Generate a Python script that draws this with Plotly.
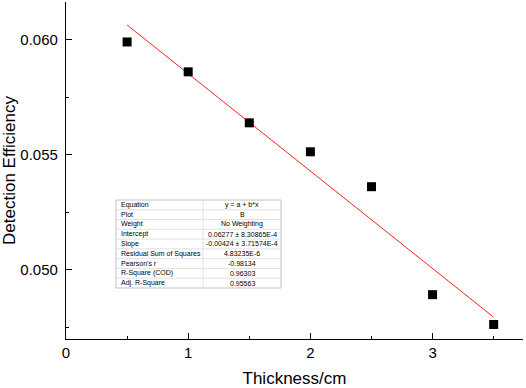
import plotly.graph_objects as go

thickness = [0.5, 1.0, 1.5, 2.0, 2.5, 3.0, 3.5]
efficiency = [0.05991, 0.05861, 0.05639, 0.05513, 0.05361, 0.04891, 0.04761]

intercept = 0.06277
slope = -0.00424
fit_x = [min(thickness), max(thickness)]
fit_y = [intercept + slope * x for x in fit_x]

table_labels = ["Equation", "Plot", "Weight", "Intercept", "Slope", "Residual Sum of Squares",
                "Pearson's r", "R-Square (COD)", "Adj. R-Square"]
table_values = ["y = a + b*x", "B", "No Weighting", "0.06277 \u00b1 8.30865E-4",
                "-0.00424 \u00b1 3.71574E-4", "4.83235E-6", "-0.98134", "0.96303", "0.95563"]

FONT = "Liberation Sans, Arial, sans-serif"
W, H = 526, 388
ML, MR, MT, MB = 66, 3, 2, 49

fig = go.Figure()
fig.add_trace(go.Scatter(x=fit_x, y=fit_y, mode="lines",
                         line=dict(color="#ff2020", width=1), showlegend=False))
fig.add_trace(go.Scatter(x=thickness, y=efficiency, mode="markers",
                         marker=dict(symbol="square", size=9, color="black"),
                         showlegend=False))

# statistics table (layout box in pixel terms -> paper)
pw, ph = W - ML - MR, H - MT - MB
def px(x):
    return (x - ML) / pw
def py(y):
    return (H - MB - y) / ph

t_left, t_right, t_top, t_bot, t_mid = 116, 281, 200, 288, 203
n = len(table_labels)
rh = (t_bot - t_top) / n
shapes = [dict(type="rect", xref="paper", yref="paper", x0=px(t_left), x1=px(t_right),
               y0=py(t_bot), y1=py(t_top), line=dict(color="#c0c0c0", width=1),
               fillcolor="white", layer="above")]
for i in range(1, n):
    yy = t_top + i * rh
    shapes.append(dict(type="line", xref="paper", yref="paper", x0=px(t_left), x1=px(t_right),
                       y0=py(yy), y1=py(yy), line=dict(color="#e2e2e2", width=1), layer="above"))
shapes.append(dict(type="line", xref="paper", yref="paper", x0=px(t_mid), x1=px(t_mid),
                   y0=py(t_bot), y1=py(t_top), line=dict(color="#e2e2e2", width=1), layer="above"))
annotations = []
for i, (lab, val) in enumerate(zip(table_labels, table_values)):
    yc = t_top + (i + 0.5) * rh
    annotations.append(dict(xref="paper", yref="paper", x=px(t_left + 3), y=py(yc),
                            xanchor="left", yanchor="middle", text=lab, showarrow=False,
                            font=dict(size=7, family=FONT, color="black")))
    annotations.append(dict(xref="paper", yref="paper", x=px((t_mid + t_right) / 2), y=py(yc),
                            xanchor="center", yanchor="middle", text=val, showarrow=False,
                            font=dict(size=7, family=FONT, color="black")))

fig.update_layout(
    width=W, height=H,
    margin=dict(l=ML, r=MR, t=MT, b=MB),
    paper_bgcolor="white", plot_bgcolor="white",
    font=dict(family=FONT, color="black"),
    shapes=shapes, annotations=annotations,
)
fig.update_xaxes(range=[0, 3.74], tickvals=[0, 1, 2, 3], ticks="inside", ticklen=6,
                 tickwidth=1, tickcolor="black",
                 minor=dict(tickvals=[0.5, 1.5, 2.5, 3.5], ticks="inside", ticklen=3,
                            tickcolor="black", tickwidth=1),
                 showline=True, linecolor="black", linewidth=1.3, showgrid=False,
                 zeroline=False, tickfont=dict(size=15), automargin=False,
                 title=dict(text="Thickness/cm", font=dict(size=17), standoff=12))
fig.update_yaxes(range=[0.04698, 0.06165], tickvals=[0.050, 0.055, 0.060], tickformat=".3f",
                 ticks="inside", ticklen=6, tickwidth=1, tickcolor="black",
                 minor=dict(tickvals=[0.0475, 0.0525, 0.0575], ticks="inside", ticklen=3,
                            tickcolor="black", tickwidth=1),
                 showline=True, linecolor="black", linewidth=1.3, showgrid=False,
                 zeroline=False, tickfont=dict(size=15), ticklabelstandoff=4, automargin=False,
                 title=dict(text="Detection Efficiency", font=dict(size=17), standoff=0))

fig.write_html("out.html", config={"displayModeBar": False},
               post_script="document.body.style.margin='0';")
